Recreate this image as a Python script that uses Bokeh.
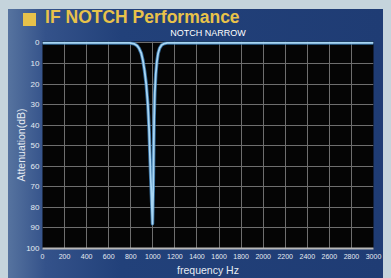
from bokeh.plotting import figure
from bokeh.models import Range1d, FixedTicker, Title, ColumnDataSource, LinearAxis
from bokeh.embed import file_html
from bokeh.resources import INLINE

# ---- data ----
freq_hz = [0, 790, 830, 855, 875, 895, 910, 925, 940, 955, 966, 976, 987, 997,
           1004, 1008, 1012, 1018, 1027, 1037, 1048, 1062, 1080, 1105, 1130, 3000]
atten_db = [0, 0, 0.4, 1.2, 2.6, 5, 8.5, 13.5, 20, 30, 42, 58, 74, 88,
            70, 52, 36, 24, 15, 9, 5, 2.5, 1, 0.3, 0, 0]
x_ticks = list(range(0, 3001, 200))
y_ticks = list(range(0, 101, 10))

title_main = "IF NOTCH Performance"
title_sub = "NOTCH NARROW"
x_label = "frequency Hz"
y_label = "Attenuation(dB)"

FONT = "Liberation Sans"
GOLD = "#e8c24a"
TXT = "#e6ebf2"
OUTER = "#c5d4dc"

p = figure(width=375, height=278, output_backend="svg", toolbar_location=None,
           x_range=Range1d(0, 3000), y_range=Range1d(100, -0.7),
           min_border_left=34, min_border_right=10, min_border_top=41,
           min_border_bottom=28)

p.border_fill_color = None
p.outline_line_color = None
p.background_fill_color = "#050505"
# page frame: light strip on top, gold title bullet, blue gradient panel
p.styles = {"background": (
    "linear-gradient(%s, %s) 15px 13px / 13px 13px no-repeat, "
    "linear-gradient(%s, %s) top left / 100%% 9px no-repeat, "
    "linear-gradient(90deg, #56739f 0%%, #34528a 10%%, #22417a 30%%, #1f3c74 100%%)")
    % (GOLD, GOLD, OUTER, OUTER)}

p.title.text = ""
p.title.standoff = 0

# bottom and left axes (styled before any extra axis is added)
xa = p.below[0]
ya = p.left[0]
for ax in (xa, ya):
    ax.major_tick_line_color = None
    ax.minor_tick_line_color = None
    ax.major_tick_out = 0
    ax.major_tick_in = 0
    ax.minor_tick_out = 0
    ax.minor_tick_in = 0
    ax.major_label_text_color = TXT
    ax.major_label_text_font = FONT
    ax.axis_label_text_font = FONT
    ax.axis_label_text_color = TXT
    ax.axis_label_text_font_style = "normal"
    ax.axis_label_text_font_size = "10.5px"

xa.ticker = FixedTicker(ticks=x_ticks)
ya.ticker = FixedTicker(ticks=y_ticks)
xa.major_label_text_font_size = "7px"
ya.major_label_text_font_size = "8px"
xa.major_label_standoff = 5
ya.major_label_standoff = 3
xa.axis_label = x_label
ya.axis_label = y_label
xa.axis_label_standoff = 2
ya.axis_label_standoff = -4
xa.axis_line_color = "#b8b8b8"
xa.axis_line_width = 2
ya.axis_line_color = None

p.grid.grid_line_color = "#6e6e6e"
p.grid.grid_line_width = 1

# subtitle (closest to the frame)
p.add_layout(Title(text=title_sub, align="center", standoff=7, text_font=FONT,
                   text_font_size="9px", text_font_style="normal",
                   text_color="#ffffff"), "above")

# main heading, drawn as the label of a bare top axis so it can sit low;
# trailing no-break spaces push its start to the frame's left edge
head = LinearAxis(ticker=FixedTicker(ticks=[]), axis_line_color=None,
                  major_tick_line_color=None, minor_tick_line_color=None,
                  major_tick_out=0, major_tick_in=0, minor_tick_out=0, minor_tick_in=0,
                  major_label_text_font_size="1px",
                  axis_label=title_main + "\u00a0" * 27, axis_label_standoff=-4,
                  axis_label_text_font=FONT, axis_label_text_font_size="17.5px",
                  axis_label_text_font_style="bold", axis_label_text_color=GOLD)
p.add_layout(head, "above")

src = ColumnDataSource(dict(f=freq_hz, a=atten_db))
p.line("f", "a", source=src, line_color="#3f85c0", line_width=3.5, line_alpha=0.8, line_join="round")
p.line("f", "a", source=src, line_color="#a8d6f4", line_width=1.8, line_join="round")

html = file_html(p, INLINE)
html = html.replace("</head>",
                    "<style>html,body{background:%s;} body{padding:0 0 0 8px !important;}</style></head>" % OUTER, 1)
open("out.html", "w").write(html)
